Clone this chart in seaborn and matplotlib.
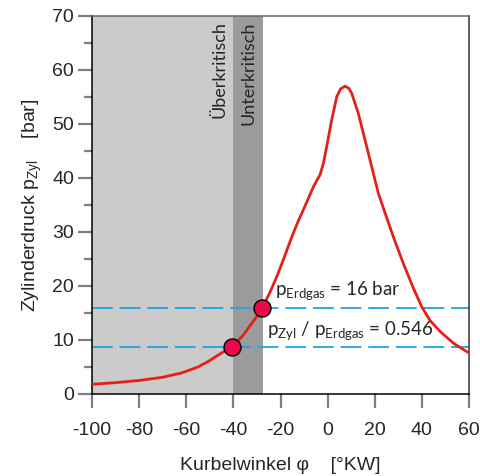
import matplotlib
matplotlib.use("Agg")
import matplotlib.pyplot as plt
import seaborn as sns
import pandas as pd

# Cylinder pressure trace over crank angle
phi = [-100, -90, -80, -70, -62, -55, -50, -45, -40.6, -36, -33, -30, -27.7,
       -24.5, -21.6, -18.5, -15.2, -12.5, -10.3, -8, -6, -4.5, -3.2, -1.8, -0.4,
       1.7, 3.9, 5.5, 7.4, 9.0, 10.2, 13.0, 15.9, 18.7, 21.5, 24.4, 27.9, 32.1,
       36.4, 40, 43.5, 47.7, 53.4, 57, 60]
p_zyl = [1.8, 2.1, 2.5, 3.1, 3.9, 5.0, 6.2, 7.6, 8.74, 10.8, 12.6, 14.4, 16.0,
         18.8, 21.7, 25.2, 29.1, 32.0, 34.1, 36.4, 38.4, 39.6, 40.6, 42.7, 45.8,
         50.7, 55.1, 56.5, 57.0, 56.6, 55.7, 52.0, 47.0, 42.1, 37.2, 33.5, 29.1, 24.2,
         19.6, 16.1, 13.6, 11.6, 9.4, 8.4, 7.6]

# Gas supply pressure and critical pressure ratio
p_erdgas = 16.0
ratio = 0.546
p_crit = ratio * p_erdgas

# Crank angles where the trace crosses both pressure levels
cross_phi = [-40.6, -27.7]
cross_p = [p_crit, p_erdgas]

# Injection regimes (crank angle bounds)
ueber_range = [-100, -40]
unter_range = [-40, -27.4]

x_ticks = [-100, -80, -60, -40, -20, 0, 20, 40, 60]
y_ticks = [0, 10, 20, 30, 40, 50, 60, 70]
y_minor = [5, 15, 25, 35, 45, 55, 65]

sns.set_style("white")
plt.rcParams["font.family"] = ["Liberation Sans", "DejaVu Sans"]
plt.rcParams["axes.unicode_minus"] = False
plt.rcParams["mathtext.fontset"] = "custom"
plt.rcParams["mathtext.rm"] = "Liberation Sans"
plt.rcParams["mathtext.it"] = "Liberation Sans"
plt.rcParams["mathtext.sf"] = "Lato"

fig = plt.figure(figsize=(4.81, 4.76), dpi=100)
ax = fig.add_axes([92 / 481, 1 - 394 / 476, 377 / 481, 378 / 476])

ax.axvspan(*ueber_range, color="#cbcbcb", lw=0, zorder=0)
ax.axvspan(*unter_range, color="#9b9b9c", lw=0, zorder=0)

for lvl in cross_p:
    ax.axhline(lvl, color="#1ea4e4", lw=1.3, dashes=(11.5, 3.8), zorder=1)

df = pd.DataFrame({"phi": phi, "p": p_zyl})
sns.lineplot(data=df, x="phi", y="p", ax=ax, color="#e32119", lw=2.0,
             sort=False, zorder=3)

dots = pd.DataFrame({"phi": cross_phi, "p": cross_p})
sns.scatterplot(data=dots, x="phi", y="p", ax=ax, s=150, color="#ea0a4b",
                edgecolor="black", linewidth=1.0, zorder=4)

ax.set_xlim(-100, 60)
ax.set_ylim(0, 70)
ax.set_xticks(x_ticks)
ax.set_yticks(y_ticks)
ax.set_yticks(y_minor, minor=True)
ax.tick_params(axis="both", which="major", direction="out", length=10, width=1.6,
               color="#7f7f7f", labelsize=14)
ax.tick_params(axis="x", which="major", pad=10, bottom=True)
ax.tick_params(axis="y", which="major", pad=3, left=True)
ax.tick_params(axis="y", which="minor", direction="out", length=6, width=1.6,
               color="#7f7f7f", left=True)

for side, col in [("left", "black"), ("bottom", "black"), ("top", "#666666"),
                  ("right", "#333333")]:
    ax.spines[side].set_visible(True)
    ax.spines[side].set_color(col)
    ax.spines[side].set_linewidth(1.1)

ax.set_xlabel("Kurbelwinkel \u03c6    [\u00b0KW]", fontsize=14, labelpad=13)
ax.set_ylabel(r"Zylinderdruck p$_{\mathrm{Zyl}}$    [bar]", fontsize=14, labelpad=6)

txt_font = ["Lato", "DejaVu Sans"]
ax.text(-46, 69, "\u00dcberkritisch", rotation=90, ha="center", va="top",
        fontsize=13, family=txt_font, zorder=5)
ax.text(-33.7, 69, "Unterkritisch", rotation=90, ha="center", va="top",
        fontsize=13, family=txt_font, zorder=5)
ax.text(-22.3, 18.3, r"p$_{\mathsf{Erdgas}}$ = 16 bar", fontsize=13.5,
        family=txt_font, zorder=5)
ax.text(-25.8, 10.9, r"p$_{\mathsf{Zyl}}$ / p$_{\mathsf{Erdgas}}$ = 0.546",
        fontsize=13.5, family=txt_font, zorder=5)

fig.savefig("out.png", dpi=100)
